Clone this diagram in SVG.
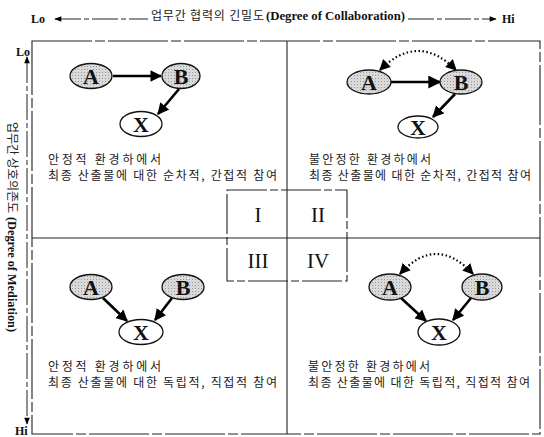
<svg xmlns="http://www.w3.org/2000/svg" width="544" height="437" viewBox="0 0 544 437">
<style>
.kr{font-family:"Noto Sans CJK KR","Noto Sans",sans-serif;font-size:12px;fill:#222}
.ser{font-family:"Liberation Serif",serif;font-weight:bold;fill:#111}
.nd{stroke:#111;stroke-width:1.3}
.wh{fill:#fff}
.lbl{font-family:"Liberation Serif",serif;font-weight:bold;font-size:22px;fill:#111;text-anchor:middle}
.rn{font-family:"Liberation Serif",serif;font-size:21px;fill:#111;text-anchor:middle}
.ar{stroke:#000;stroke-width:2.6;fill:none}
.dt{stroke:#000;stroke-width:2.2;fill:none;stroke-dasharray:1.5 2.5}
.bx{stroke:#222;stroke-width:1.1;fill:none}
.ax{stroke:#222;stroke-width:1;fill:none;stroke-dasharray:26 3 5 3}
</style>
<defs>
<pattern id="stip" width="3" height="3" patternUnits="userSpaceOnUse">
<rect width="3" height="3" fill="#d9d9d9"/>
<rect width="1" height="1" fill="#9a9a9a"/>
</pattern>
<marker id="ah" viewBox="0 0 10 10" refX="9" refY="5" markerWidth="4.5" markerHeight="4.5" orient="auto-start-reverse" markerUnits="strokeWidth">
<path d="M0,0 L10,5 L0,10 z" fill="#000"/>
</marker>
<marker id="ad" viewBox="0 0 10 10" refX="9" refY="5" markerWidth="5" markerHeight="5" orient="auto-start-reverse" markerUnits="strokeWidth">
<path d="M0,0 L10,5 L0,10 z" fill="#000"/>
</marker>
<marker id="ax" viewBox="0 0 10 10" refX="9" refY="5" markerWidth="8" markerHeight="7" orient="auto-start-reverse" markerUnits="strokeWidth">
<path d="M0,1 L10,5 L0,9 z" fill="#000"/>
</marker>
</defs>

<!-- axes -->
<g id="axes">
<text x="31" y="23" class="ser" font-size="12">Lo</text>
<text x="502" y="23" class="ser" font-size="12">Hi</text>
<line x1="55" y1="19" x2="148" y2="19" class="ax" stroke-dasharray="none" marker-start="url(#ax)"/>
<line x1="408" y1="19" x2="496" y2="19" class="ax" marker-end="url(#ax)"/>
<text x="151" y="20" class="kr" font-size="12" textLength="113" lengthAdjust="spacing">업무간 협력의 긴밀도</text>
<text x="266" y="20" class="ser" font-size="12" textLength="139" lengthAdjust="spacingAndGlyphs">(Degree of Collaboration)</text>
<text x="16" y="56" class="ser" font-size="12">Lo</text>
<text x="15" y="435" class="ser" font-size="12">Hi</text>
<line x1="27" y1="57" x2="27" y2="424" class="ax" marker-start="url(#ax)" marker-end="url(#ax)"/>
<g transform="translate(8,122) rotate(90)">
<text x="0" y="0" class="kr" font-size="11">업무간 상호의존도</text>
<text x="95" y="0" class="ser" font-size="12" textLength="115" lengthAdjust="spacingAndGlyphs">(Degree of Mediation)</text>
</g>
</g>

<!-- frame -->
<g id="frame">
<rect x="32" y="41" width="508" height="393" class="bx" stroke-dasharray="60 3 10 3"/>
<line x1="287" y1="41" x2="287" y2="434" class="bx"/>
<line x1="32" y1="238" x2="540" y2="238" class="bx"/>
<rect x="227" y="190" width="120" height="91" class="bx" stroke-dasharray="40 3 8 3"/>
</g>

<g id="quadrant-labels">
<text x="258" y="222" class="rn">I</text>
<text x="318" y="222" class="rn">II</text>
<text x="258" y="268" class="rn">III</text>
<text x="318" y="268" class="rn">IV</text>
</g>

<!-- connectors -->
<g id="connectors">
<line x1="113" y1="76" x2="161" y2="76" class="ar" marker-end="url(#ah)"/>
<line x1="179" y1="89" x2="158" y2="114" class="ar" marker-end="url(#ah)"/>
<line x1="391" y1="82" x2="440" y2="82" class="ar" stroke-width="2" marker-end="url(#ad)"/>
<line x1="455" y1="94" x2="433" y2="117" class="ar" marker-end="url(#ah)"/>
<path d="M 380 70 Q 418 32 456 70" class="dt" marker-start="url(#ad)" marker-end="url(#ad)"/>
<line x1="103" y1="298" x2="127" y2="321" class="ar" marker-end="url(#ah)"/>
<line x1="172" y1="298" x2="155" y2="320" class="ar" marker-end="url(#ah)"/>
<line x1="401" y1="298" x2="426" y2="321" class="ar" marker-end="url(#ah)"/>
<line x1="471" y1="298" x2="453" y2="320" class="ar" marker-end="url(#ah)"/>
<path d="M 400 274 Q 436 234 473 274" class="dt" marker-start="url(#ad)" marker-end="url(#ad)"/>
</g>

<!-- Quadrant I -->
<g id="q1-A"><ellipse cx="91" cy="76" rx="21" ry="12.5" class="nd" fill="url(#stip)"/><text x="91" y="84" class="lbl">A</text></g>
<g id="q1-B"><ellipse cx="181" cy="76" rx="19" ry="12.5" class="nd" fill="url(#stip)"/><text x="181" y="84" class="lbl">B</text></g>
<g id="q1-X"><ellipse cx="141" cy="124" rx="21" ry="12.5" class="nd wh"/><text x="141" y="132" class="lbl">X</text></g>
<g id="q1-text">
<text x="48" y="164" class="kr" textLength="113" lengthAdjust="spacing">안정적 환경하에서</text>
<text x="48" y="180" class="kr" textLength="229" lengthAdjust="spacing">최종 산출물에 대한 순차적, 간접적 참여</text>
</g>

<!-- Quadrant II -->
<g id="q2-A"><ellipse cx="369" cy="82" rx="22" ry="12" class="nd" fill="url(#stip)"/><text x="369" y="90" class="lbl">A</text></g>
<g id="q2-B"><ellipse cx="461" cy="82" rx="21" ry="12" class="nd" fill="url(#stip)"/><text x="461" y="90" class="lbl">B</text></g>
<g id="q2-X"><ellipse cx="418" cy="127" rx="20" ry="11" class="nd wh"/><text x="418" y="135" class="lbl">X</text></g>
<g id="q2-text">
<text x="309" y="164" class="kr" textLength="122" lengthAdjust="spacing">불안정한 환경하에서</text>
<text x="309" y="180" class="kr" textLength="222" lengthAdjust="spacing">최종 산출물에 대한 순차적, 간접적 참여</text>
</g>

<!-- Quadrant III -->
<g id="q3-A"><ellipse cx="91" cy="287" rx="21" ry="12.5" class="nd" fill="url(#stip)"/><text x="91" y="295" class="lbl">A</text></g>
<g id="q3-B"><ellipse cx="183" cy="287" rx="21" ry="12.5" class="nd" fill="url(#stip)"/><text x="183" y="295" class="lbl">B</text></g>
<g id="q3-X"><ellipse cx="141" cy="332" rx="22" ry="12.5" class="nd wh"/><text x="141" y="340" class="lbl">X</text></g>
<g id="q3-text">
<text x="48" y="371" class="kr" textLength="113" lengthAdjust="spacing">안정적 환경하에서</text>
<text x="48" y="387" class="kr" textLength="229" lengthAdjust="spacing">최종 산출물에 대한 독립적, 직접적 참여</text>
</g>

<!-- Quadrant IV -->
<g id="q4-A"><ellipse cx="390" cy="287" rx="21" ry="13" class="nd" fill="url(#stip)"/><text x="390" y="295" class="lbl">A</text></g>
<g id="q4-B"><ellipse cx="482" cy="287" rx="20" ry="13" class="nd" fill="url(#stip)"/><text x="482" y="295" class="lbl">B</text></g>
<g id="q4-X"><ellipse cx="439" cy="332" rx="21" ry="13" class="nd wh"/><text x="439" y="340" class="lbl">X</text></g>
<g id="q4-text">
<text x="308" y="371" class="kr" textLength="122" lengthAdjust="spacing">불안정한 환경하에서</text>
<text x="308" y="387" class="kr" textLength="222" lengthAdjust="spacing">최종 산출물에 대한 독립적, 직접적 참여</text>
</g>
</svg>
